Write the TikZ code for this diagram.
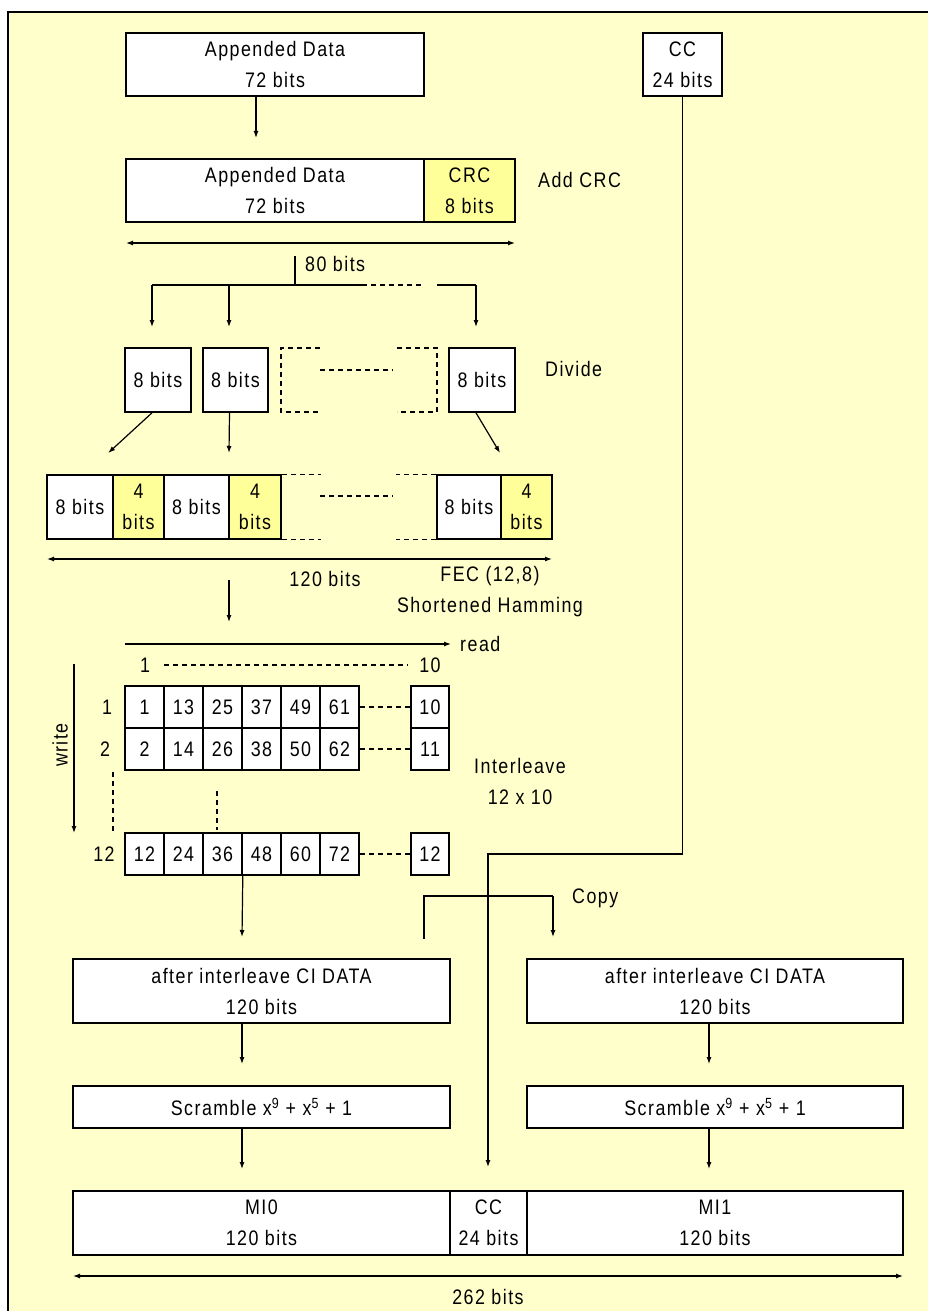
\documentclass[tikz,border=0pt]{standalone}
\usepackage{fontspec}
\setmainfont{Liberation Sans}[FakeStretch=0.85,LetterSpace=7]
\usetikzlibrary{arrows.meta}
\definecolor{bgy}{HTML}{FFFFCC}
\definecolor{hly}{HTML}{FFFF99}
\begin{document}
\begin{tikzpicture}[x=1pt,y=-1pt,
  txt/.style={font=\fontsize{21}{31}\selectfont, inner sep=0pt, align=center},
  box/.style={txt, draw, line width=1.6pt, fill=white},
  hbox/.style={box, fill=hly},
  cell/.style={box, minimum width=39pt, minimum height=42pt},
  arr/.style={line width=1.2pt, -{Latex[length=7pt,width=5pt]}},
  darr/.style={line width=1.2pt, {Latex[length=7pt,width=5pt]}-{Latex[length=7pt,width=5pt]}},
  ln/.style={line width=1.2pt},
  dln/.style={line width=1.2pt, dash pattern=on 5pt off 4pt}]
\useasboundingbox (0,0) rectangle (928,1311);
\clip (0,0) rectangle (928,1311);
\fill[white] (0,0) rectangle (928,1311);
\draw[line width=1.8pt, fill=bgy] (8,12) rectangle (980,1350);

% top boxes
\node[box, minimum width=298pt, minimum height=63pt] (ad1) at (275,64.5) {Appended Data\\72 bits};
\node[box, minimum width=79pt, minimum height=63pt] (cc1) at (682.5,64.5) {CC\\24 bits};
\coordinate (a1e) at (256,138);
\draw[arr] (ad1.south -| a1e) -- (a1e);

\node[box, minimum width=298pt, minimum height=63pt] (ad2) at (275,190.5) {Appended Data\\72 bits};
\node[hbox, minimum width=91pt, minimum height=63pt] (crc) at (469.5,190.5) {CRC\\8 bits};
\node[txt, anchor=west] (addcrc) at (538,180) {Add CRC};

\coordinate (d1l) at (126,243); \coordinate (d1r) at (515,243);
\draw[darr] (d1l) -- (d1r);
\node[txt, anchor=west] (b80) at (305,264) {80 bits};

\coordinate (t80a) at (295,256); \coordinate (t80b) at (295,285);
\draw[ln] (t80a) -- (t80b);
\coordinate (h1) at (152,285); \coordinate (h2) at (229,285);
\coordinate (h3) at (362,285); \coordinate (h4) at (421,285);
\coordinate (h5) at (437,285); \coordinate (h6) at (476,285);
\coordinate (v1) at (152,327); \coordinate (v2) at (229,327); \coordinate (v3) at (476,327);
\draw[ln] (h3) -- (h1);
\draw[dln] (h3) -- (h4);
\draw[ln] (h5) -- (h6);
\draw[arr] (h1) -- (v1);
\draw[arr] (h2) -- (v2);
\draw[arr] (h6) -- (v3);

% 8-bit blocks
\node[box, minimum width=66pt, minimum height=64pt] (e1) at (158,380) {8 bits};
\node[box, minimum width=65pt, minimum height=64pt] (e2) at (235.5,380) {8 bits};
\node[box, minimum width=66pt, minimum height=64pt] (e4) at (482,380) {8 bits};
\draw[dln] (320,348) -- (281,348) -- (281,412) -- (320,412);
\draw[dln] (397,348) -- (437,348) -- (437,412) -- (397,412);
\draw[dln] (320,370) -- (393,370);
\node[txt, anchor=west] (divide) at (545,369) {Divide};

% encoded row
\node[box, minimum width=66pt, minimum height=64pt] (f1) at (80,507) {8 bits};
\node[hbox, minimum width=51pt, minimum height=64pt] (g1) at (138.5,507) {4\\bits};
\node[box, minimum width=65pt, minimum height=64pt] (f2) at (196.5,507) {8 bits};
\node[hbox, minimum width=52pt, minimum height=64pt] (g2) at (255,507) {4\\bits};
\node[box, minimum width=64pt, minimum height=64pt] (f3) at (469,507) {8 bits};
\node[hbox, minimum width=51pt, minimum height=64pt] (g3) at (526.5,507) {4\\bits};
\draw[dln] (g2.north east) -- ++(39,0);
\draw[dln] (g2.south east) -- ++(39,0);
\draw[dln] (f3.north west) -- ++(-40,0);
\draw[dln] (f3.south west) -- ++(-40,0);
\draw[dln] (320,496) -- (393,496);

\draw[arr] ([xshift=-6pt]e1.south) -- ([xshift=-4pt]g1.north west |- 0,453);
\draw[arr] ([xshift=-6pt]e2.south) -- ([xshift=-6.5pt]e2.south |- 0,453);
\draw[arr] ([xshift=-6pt]e4.south) -- (500,453);

\coordinate (d2l) at (47,559); \coordinate (d2r) at (552,559);
\draw[darr] (d2l) -- (d2r);
\node[txt] (b120) at (325,579) {120 bits};
\node[txt] (fec) at (490,592) {FEC (12,8)\\Shortened Hamming};
\coordinate (a2s) at (229,580); \coordinate (a2e) at (229,622);
\draw[arr] (a2s) -- (a2e);

% interleave grid
\coordinate (rs) at (125,644); \coordinate (re) at (451,644);
\draw[arr] (rs) -- (re);
\node[txt, anchor=west] (read) at (460,644) {read};
\node[txt] (c1) at (145,665) {1};
\node[txt] (c10) at (430,665) {10};
\draw[dln] (164,665) -- (408,665);

\foreach \v [count=\i] in {1,13,25,37,49,61} {\node[cell] (ra\i) at ({105.5+39*\i},707) {\v};}
\foreach \v [count=\i] in {2,14,26,38,50,62} {\node[cell] (rb\i) at ({105.5+39*\i},749) {\v};}
\foreach \v [count=\i] in {12,24,36,48,60,72} {\node[cell] (rc\i) at ({105.5+39*\i},854) {\v};}
\node[cell, minimum width=38pt] (ra7) at (430,707) {10};
\node[cell, minimum width=38pt] (rb7) at (430,749) {11};
\node[cell, minimum width=38pt] (rc7) at (430,854) {12};
\draw[dln] (ra6.east) -- (ra7.west);
\draw[dln] (rb6.east) -- (rb7.west);
\draw[dln] (rc6.east) -- (rc7.west);

\node[txt] (w1) at (107,707) {1};
\node[txt] (w2) at (105,749) {2};
\node[txt] (w12) at (104,854) {12};
\node[txt, rotate=90] (write) at (60,745) {write};
\coordinate (ws) at (74,664); \coordinate (we) at (74,833);
\draw[arr] (ws) -- (we);
\draw[dln] (113,772) -- (113,832);
\draw[dln] (217,791) -- (217,830);
\node[txt] (inter) at (520,781) {Interleave\\12 x 10};

\coordinate (a3e) at (242,937);
\draw[arr] (rc3.south east) -- (a3e);

% copy bracket
\coordinate (cp1) at (424,939); \coordinate (cp2) at (424,896);
\coordinate (cp3) at (553,896); \coordinate (cp4) at (553,937);
\draw[ln] (cp1) -- (cp2) -- (cp3);
\draw[arr] (cp3) -- (cp4);
\node[txt, anchor=west] (copy) at (572,898) {Copy};

% CC line
\coordinate (ccm) at (488,854); \coordinate (cce) at (488,1167);
\draw[arr] (cc1.south) |- (ccm) -- (cce);

% lower boxes
\node[box, minimum width=377pt, minimum height=64pt] (ai1) at (261.5,991) {after interleave CI DATA\\120 bits};
\node[box, minimum width=376pt, minimum height=64pt] (ai2) at (715,991) {after interleave CI DATA\\120 bits};
\node[box, minimum width=377pt, minimum height=42pt] (sc1) at (261.5,1107) {Scramble x\textsuperscript{9} + x\textsuperscript{5} + 1};
\node[box, minimum width=376pt, minimum height=42pt] (sc2) at (715,1107) {Scramble x\textsuperscript{9} + x\textsuperscript{5} + 1};
\draw[arr] (ai1.south -| 242,0) -- (242,1064);
\draw[arr] (ai2.south -| 709,0) -- (709,1064);
\draw[arr] (sc1.south -| 242,0) -- (242,1169);
\draw[arr] (sc2.south -| 709,0) -- (709,1169);

\node[box, minimum width=377pt, minimum height=64pt] (mi0) at (261.5,1223) {MI0\\120 bits};
\node[box, minimum width=77pt, minimum height=64pt] (cc2) at (488.5,1223) {CC\\24 bits};
\node[box, minimum width=376pt, minimum height=64pt] (mi1) at (715,1223) {MI1\\120 bits};

\coordinate (d3l) at (73,1276); \coordinate (d3r) at (903,1276);
\draw[darr] (d3l) -- (d3r);
\node[txt] (b262) at (488,1297) {262 bits};
\end{tikzpicture}
\end{document}
